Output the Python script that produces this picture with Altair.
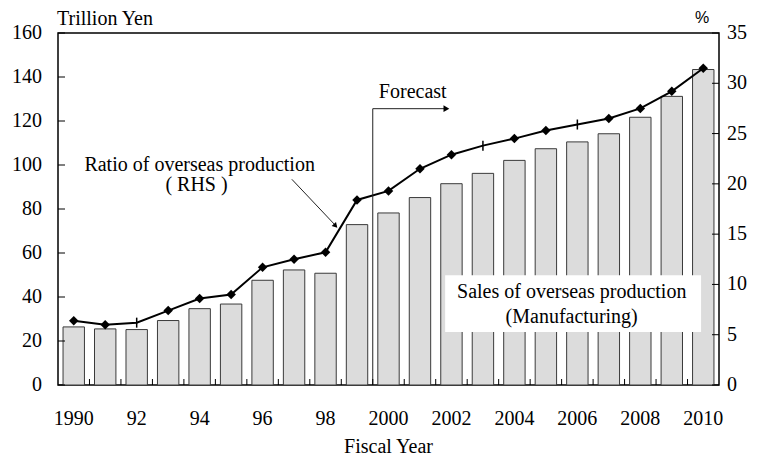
import altair as alt
import pandas as pd

# ---- data ----
years = list(range(1990, 2011))
sales = [26.4, 25.5, 25.2, 29.3, 34.7, 36.8, 47.6, 52.3, 50.8, 72.9, 78.2,
         85.2, 91.5, 96.2, 102.1, 107.4, 110.5, 114.2, 121.7, 131.2, 143.4]
ratio = [6.4, 6.0, 6.2, 7.4, 8.6, 9.0, 11.7, 12.5, 13.2, 18.4, 19.3,
         21.5, 22.9, 23.8, 24.5, 25.3, 25.9, 26.5, 27.5, 29.2, 31.5]
tick_marker_years = [1992, 2003, 2006]
x_label_years = list(range(1990, 2011, 2))
x_labels = ["1990", "92", "94", "96", "98", "2000", "2002", "2004", "2006", "2008", "2010"]
left_ticks = list(range(0, 161, 20))
right_ticks = list(range(0, 36, 5))

FONT = "Liberation Serif"
FS = 20
W, H = 661, 352

xs = alt.Scale(domain=[1989.5, 2010.5], nice=False, zero=False)
ls = alt.Scale(domain=[0, 160], nice=False)
rs = alt.Scale(domain=[0, 35], nice=False)

df = pd.DataFrame({"year": years, "sales": sales, "ratio": ratio})
df["plain"] = [y in tick_marker_years for y in years]

base = alt.Chart(df)

bars = base.transform_calculate(
    x0="datum.year - 0.34", x1="datum.year + 0.34", zero="0"
).mark_rect(fill="#dcdcdc", stroke="#3a3a3a", strokeWidth=1).encode(
    x=alt.X("x0:Q", scale=xs, axis=None),
    x2="x1:Q",
    y=alt.Y("sales:Q", scale=ls, axis=None),
    y2="zero:Q",
)

# white label box over bars
box_df = pd.DataFrame({"x0": [2001.8], "x1": [2009.93], "y0": [24.1], "y1": [49.9]})
box = alt.Chart(box_df).mark_rect(fill="white").encode(
    x=alt.X("x0:Q", scale=xs, axis=None), x2="x1:Q",
    y=alt.Y("y0:Q", scale=ls, axis=None), y2="y1:Q",
)

line = base.mark_line(color="black", strokeWidth=2).encode(
    x=alt.X("year:Q", scale=xs, axis=None),
    y=alt.Y("ratio:Q", scale=rs, axis=None),
)
diamonds = base.transform_filter("!datum.plain").mark_point(
    shape="diamond", filled=True, color="black", size=90, opacity=1
).encode(
    x=alt.X("year:Q", scale=xs, axis=None),
    y=alt.Y("ratio:Q", scale=rs, axis=None),
)
plain = base.transform_filter("datum.plain").mark_point(
    shape="M0,-1L0,1", filled=False, color="black", strokeWidth=1.5, size=100, opacity=1
).encode(
    x=alt.X("year:Q", scale=xs, axis=None),
    y=alt.Y("ratio:Q", scale=rs, axis=None),
)

# forecast annotation
fc_lines = pd.DataFrame({"x0": [1999.5, 1999.5], "x1": [1999.5, 2001.8],
                         "y0": [0, 125.6], "y1": [125.6, 125.6]})
fc_rules = alt.Chart(fc_lines).mark_rule(color="#222222", strokeWidth=1).encode(
    x=alt.X("x0:Q", scale=xs, axis=None), x2="x1:Q",
    y=alt.Y("y0:Q", scale=ls, axis=None), y2="y1:Q",
)
fc_head = alt.Chart(pd.DataFrame({"x": [2001.84], "y": [125.6]})).mark_point(
    shape="triangle-right", filled=True, color="black", size=45, opacity=1
).encode(x=alt.X("x:Q", scale=xs, axis=None), y=alt.Y("y:Q", scale=ls, axis=None))

# RHS arrow
rhs_line = alt.Chart(pd.DataFrame({"x0": [1996.93], "x1": [1998.35], "y0": [93.5], "y1": [72.0]})).mark_rule(
    color="#222222", strokeWidth=1).encode(
    x=alt.X("x0:Q", scale=xs, axis=None), x2="x1:Q",
    y=alt.Y("y0:Q", scale=ls, axis=None), y2="y1:Q",
)
rhs_head = alt.Chart(pd.DataFrame({"x": [1998.3], "y": [72.6]})).mark_point(
    shape="triangle", filled=True, color="black", size=35, opacity=1, angle=137
).encode(x=alt.X("x:Q", scale=xs, axis=None), y=alt.Y("y:Q", scale=ls, axis=None))

# annotation texts (in data coordinates of left scale)
ann = pd.DataFrame({
    "text": ["Forecast", "Ratio of overseas production", "( RHS )",
             "Sales of overseas production", "(Manufacturing)"],
    "x": [2000.77, 1994.0, 1993.9, 2005.82, 2005.82],
    "y": [133.2, 100.2, 91.0, 42.3, 31.0],
})
ann_text = alt.Chart(ann).mark_text(font=FONT, fontSize=FS, color="black",
                                    align="center", baseline="middle").encode(
    x=alt.X("x:Q", scale=xs, axis=None), y=alt.Y("y:Q", scale=ls, axis=None), text="text:N"
)

# axis labels as text marks (serif)
xl = alt.Chart(pd.DataFrame({"year": x_label_years, "label": x_labels})).mark_text(
    font=FONT, fontSize=FS, color="black", align="center", baseline="middle"
).encode(x=alt.X("year:Q", scale=xs, axis=None), y=alt.value(H + 34), text="label:N")
yl = alt.Chart(pd.DataFrame({"v": left_ticks})).mark_text(
    font=FONT, fontSize=FS, color="black", align="right", baseline="middle"
).encode(y=alt.Y("v:Q", scale=ls, axis=None), x=alt.value(-16), text="v:N")
yr = alt.Chart(pd.DataFrame({"v": right_ticks})).mark_text(
    font=FONT, fontSize=FS, color="black", align="left", baseline="middle"
).encode(y=alt.Y("v:Q", scale=rs, axis=None), x=alt.value(W + 8), text="v:N")

# inward ticks
lt = alt.Chart(pd.DataFrame({"v": left_ticks})).mark_rule(color="black").encode(
    y=alt.Y("v:Q", scale=ls, axis=None), x=alt.value(0), x2=alt.value(7))
rt = alt.Chart(pd.DataFrame({"v": right_ticks})).mark_rule(color="black").encode(
    y=alt.Y("v:Q", scale=rs, axis=None), x=alt.value(W - 7), x2=alt.value(W))
bt = alt.Chart(pd.DataFrame({"b": [y + 0.5 for y in years[:-1]]})).mark_rule(color="black").encode(
    x=alt.X("b:Q", scale=xs, axis=None), y=alt.value(H - 6), y2=alt.value(H))

# titles
t1 = alt.Chart(pd.DataFrame({"text": ["Trillion Yen"]})).mark_text(
    font=FONT, fontSize=FS, color="black", align="left", baseline="middle").encode(
    x=alt.value(-1), y=alt.value(-14), text="text:N")
t2 = alt.Chart(pd.DataFrame({"text": ["%"]})).mark_text(
    font="Liberation Sans", fontSize=16, color="black", align="center", baseline="middle").encode(
    x=alt.value(644), y=alt.value(-15), text="text:N")
t3 = alt.Chart(pd.DataFrame({"text": ["Fiscal Year"]})).mark_text(
    font=FONT, fontSize=FS, color="black", align="center", baseline="middle").encode(
    x=alt.value(W / 2), y=alt.value(414), text="text:N")

chart = alt.layer(
    bars, line, box, diamonds, plain, fc_rules, fc_head, rhs_line, rhs_head,
    ann_text, xl, yl, yr, lt, rt, bt, t1, t2, t3
).resolve_scale(y="independent").properties(
    width=W, height=H,
    padding={"left": 50, "top": 25, "right": 30, "bottom": 72},
    autosize=alt.AutoSizeParams(type="none"),
    background="white",
).configure_view(stroke="black", strokeWidth=1.5)

chart.save("out.html", embed_options={"renderer": "svg", "actions": False})
